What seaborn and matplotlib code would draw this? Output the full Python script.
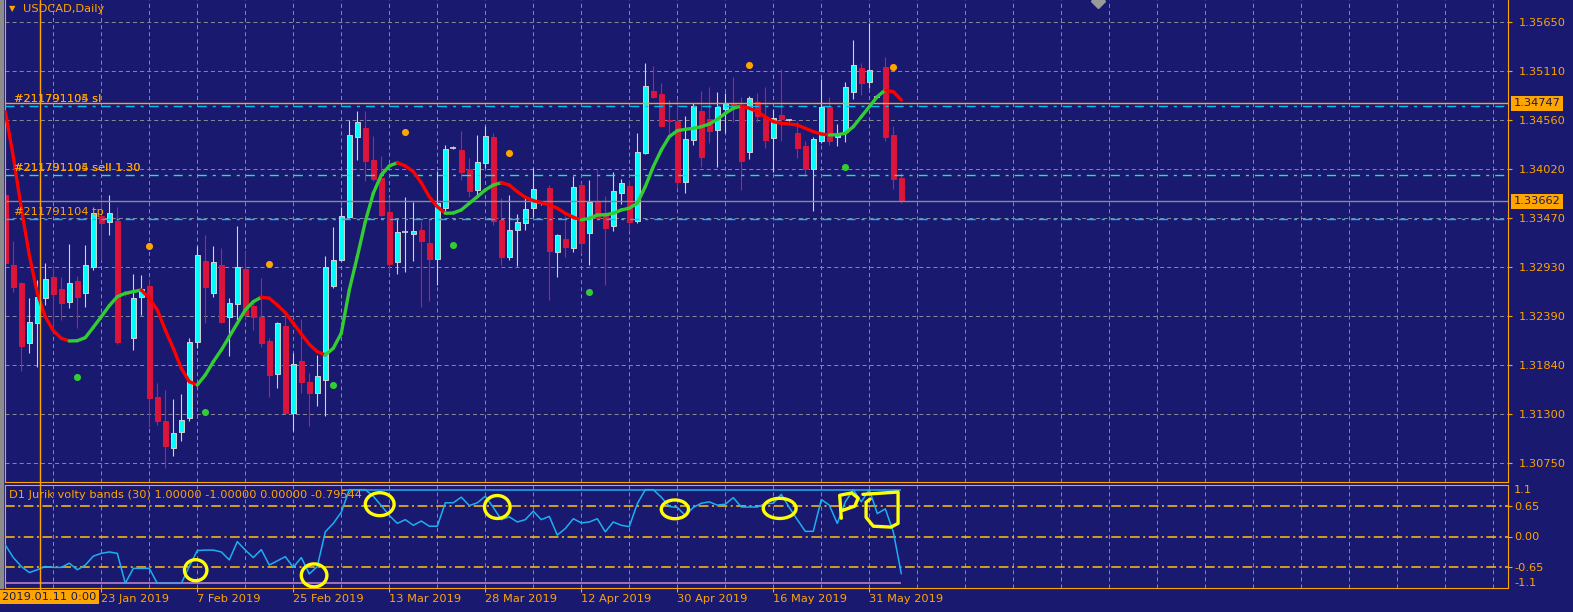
import numpy as np
import pandas as pd
import matplotlib
matplotlib.use("Agg")
import matplotlib.pyplot as plt
import seaborn as sns
from matplotlib.collections import LineCollection
from matplotlib.lines import Line2D
from matplotlib.patches import Ellipse, Rectangle
from matplotlib.transforms import blended_transform_factory

# ---- values (one entry per bar) ----
opens = [1.33730, 1.32953, 1.32753, 1.32086, 1.32308, 1.32586, 1.32819, 1.32686, 1.32541, 1.32775,
         1.32641, 1.32930, 1.33497, 1.33430, 1.33441, 1.32641, 1.32141, 1.32597, 1.32719, 1.31486,
         1.31219, 1.30919, 1.31097, 1.31253, 1.32097, 1.32997, 1.32641, 1.32953, 1.32375, 1.32519,
         1.32908, 1.32497, 1.32375, 1.32108, 1.31741, 1.32275, 1.31308, 1.31886, 1.31653, 1.31530,
         1.31675, 1.32719, 1.33008, 1.33486, 1.34375, 1.34475, 1.34119, 1.33919, 1.33541, 1.32986,
         1.33319, 1.33297, 1.33341, 1.33197, 1.33019, 1.33586, 1.34253, 1.34230, 1.34019, 1.33786,
         1.34086, 1.34375, 1.33453, 1.33041, 1.33341, 1.33419, 1.33586, 1.33641, 1.33808, 1.33097,
         1.33241, 1.33141, 1.33841, 1.33308, 1.33653, 1.33530, 1.33386, 1.33753, 1.33830, 1.33441,
         1.34197, 1.34886, 1.34853, 1.34564, 1.34553, 1.33875, 1.34341, 1.34664, 1.34575, 1.34453,
         1.34686, 1.34753, 1.34708, 1.34208, 1.34764, 1.34597, 1.34364, 1.34619, 1.34564, 1.34419,
         1.34275, 1.34019, 1.34330, 1.34708, 1.34375, 1.34430, 1.34875, 1.35141, 1.34986, 1.34819,
         1.35153, 1.34397, 1.33919]
highs = [1.33897, 1.33219, 1.32764, 1.32586, 1.32786, 1.32975, 1.32953, 1.32819, 1.33186, 1.32830,
         1.33175, 1.33541, 1.33708, 1.33730, 1.33597, 1.32664, 1.32853, 1.32841, 1.32797, 1.31641,
         1.31564, 1.31464, 1.31519, 1.32141, 1.33164, 1.33286, 1.33164, 1.33141, 1.32586, 1.33386,
         1.33119, 1.32530, 1.32808, 1.32141, 1.32319, 1.32419, 1.31975, 1.32353, 1.31753, 1.31953,
         1.33053, 1.33375, 1.33597, 1.34564, 1.34664, 1.34664, 1.34386, 1.34164, 1.33708, 1.33464,
         1.33708, 1.33653, 1.33441, 1.33464, 1.33997, 1.34286, 1.34275, 1.34441, 1.34141, 1.34397,
         1.34497, 1.34419, 1.33697, 1.33730, 1.33519, 1.33697, 1.34030, 1.33664, 1.33841, 1.33297,
         1.33497, 1.33941, 1.33864, 1.33897, 1.34019, 1.33719, 1.33986, 1.33908, 1.33897, 1.34419,
         1.35197, 1.35164, 1.34975, 1.34786, 1.34797, 1.34608, 1.34753, 1.34886, 1.34930, 1.34875,
         1.34864, 1.35041, 1.34819, 1.34830, 1.34864, 1.34930, 1.34686, 1.35130, 1.34575, 1.34553,
         1.34330, 1.34375, 1.35019, 1.34819, 1.34519, 1.34986, 1.35453, 1.35197, 1.35641, 1.34830,
         1.35264, 1.34497, 1.33975]
lows = [1.32764, 1.32653, 1.31775, 1.31975, 1.31819, 1.32508, 1.32264, 1.32341, 1.32475, 1.32253,
        1.32486, 1.32897, 1.33008, 1.33286, 1.32075, 1.32608, 1.32008, 1.32397, 1.31153, 1.31175,
        1.30697, 1.30830, 1.30997, 1.31219, 1.32030, 1.32308, 1.32597, 1.32308, 1.31941, 1.32341,
        1.32341, 1.32230, 1.32041, 1.31486, 1.31586, 1.31308, 1.31108, 1.31530, 1.31164, 1.31386,
        1.31275, 1.32697, 1.32997, 1.33475, 1.34119, 1.33886, 1.33886, 1.33497, 1.32875, 1.32853,
        1.32875, 1.32997, 1.32486, 1.32553, 1.32730, 1.33530, 1.34241, 1.33897, 1.33708, 1.33730,
        1.34030, 1.33397, 1.32953, 1.33008, 1.32941, 1.33341, 1.33486, 1.33619, 1.32564, 1.32819,
        1.33041, 1.33097, 1.33086, 1.32953, 1.33453, 1.32730, 1.33330, 1.33630, 1.33330, 1.33419,
        1.34186, 1.34808, 1.34486, 1.34397, 1.33808, 1.33753, 1.34286, 1.34041, 1.34308, 1.34041,
        1.34419, 1.34541, 1.33786, 1.34130, 1.34541, 1.34253, 1.33986, 1.34330, 1.34553, 1.34141,
        1.33941, 1.33553, 1.34308, 1.34286, 1.34275, 1.34319, 1.34797, 1.34841, 1.34919, 1.34808,
        1.34330, 1.33797, 1.33641]
closes = [1.32975, 1.32708, 1.32053, 1.32319, 1.32597, 1.32797, 1.32630, 1.32530, 1.32753, 1.32597,
          1.32953, 1.33530, 1.33419, 1.33530, 1.32097, 1.32630, 1.32586, 1.32686, 1.31475, 1.31219,
          1.30941, 1.31086, 1.31230, 1.32097, 1.33064, 1.32708, 1.32986, 1.32319, 1.32530, 1.32930,
          1.32397, 1.32375, 1.32086, 1.31730, 1.32308, 1.31308, 1.31853, 1.31653, 1.31530, 1.31719,
          1.32930, 1.33008, 1.33497, 1.34397, 1.34541, 1.34108, 1.33908, 1.33508, 1.32964, 1.33319,
          1.33314, 1.33330, 1.33219, 1.33019, 1.33641, 1.34241, 1.34258, 1.33986, 1.33775, 1.34097,
          1.34386, 1.33441, 1.33041, 1.33341, 1.33430, 1.33575, 1.33797, 1.33636, 1.33108, 1.33286,
          1.33153, 1.33819, 1.33197, 1.33653, 1.33475, 1.33364, 1.33775, 1.33864, 1.33430, 1.34208,
          1.34941, 1.34819, 1.34497, 1.34553, 1.33875, 1.34353, 1.34719, 1.34153, 1.34441, 1.34708,
          1.34753, 1.34719, 1.34108, 1.34808, 1.34608, 1.34341, 1.34586, 1.34575, 1.34558, 1.34253,
          1.34019, 1.34353, 1.34708, 1.34330, 1.34397, 1.34930, 1.35175, 1.34975, 1.35119, 1.34814,
          1.34375, 1.33908, 1.33662]
smooth_ma = [1.34656, 1.34156, 1.33583, 1.33064, 1.32638, 1.32378, 1.32223, 1.32138, 1.32108, 1.32111,
             1.32145, 1.32260, 1.32378, 1.32500, 1.32600, 1.32638, 1.32656, 1.32675, 1.32583, 1.32453,
             1.32230, 1.32027, 1.31805, 1.31656, 1.31619, 1.31730, 1.31878, 1.32008, 1.32156, 1.32305,
             1.32453, 1.32545, 1.32594, 1.32583, 1.32508, 1.32423, 1.32305, 1.32186, 1.32071, 1.31989,
             1.31953, 1.32027, 1.32194, 1.32675, 1.33045, 1.33434, 1.33749, 1.33953, 1.34053, 1.34089,
             1.34053, 1.33989, 1.33867, 1.33711, 1.33600, 1.33527, 1.33530, 1.33564, 1.33638, 1.33711,
             1.33786, 1.33841, 1.33867, 1.33841, 1.33767, 1.33705, 1.33667, 1.33645, 1.33619, 1.33583,
             1.33527, 1.33483, 1.33453, 1.33471, 1.33508, 1.33510, 1.33527, 1.33564, 1.33583, 1.33638,
             1.33823, 1.34045, 1.34230, 1.34378, 1.34445, 1.34460, 1.34471, 1.34489, 1.34519, 1.34571,
             1.34638, 1.34694, 1.34719, 1.34694, 1.34656, 1.34600, 1.34545, 1.34527, 1.34519, 1.34508,
             1.34471, 1.34434, 1.34408, 1.34397, 1.34400, 1.34416, 1.34489, 1.34600, 1.34711, 1.34823,
             1.34897, 1.34878, 1.34786]

sell_dot_bars = [18, 33, 50, 63, 93, 111]
sell_dots = [1.33167, 1.32967, 1.34434, 1.34200, 1.35175, 1.35156]
buy_dot_bars = [9, 25, 41, 56, 73, 105]
buy_dots = [1.31711, 1.31323, 1.31623, 1.33175, 1.32656, 1.34041]

jurik = [-0.18, -0.45, -0.64, -0.77, -0.71, -0.64, -0.66, -0.66, -0.57, -0.71,
         -0.61, -0.42, -0.36, -0.33, -0.36, -1.00, -0.68, -0.68, -0.68, -1.00,
         -1.00, -1.00, -1.00, -0.64, -0.30, -0.29, -0.29, -0.33, -0.50, -0.11,
         -0.29, -0.45, -0.28, -0.61, -0.52, -0.43, -0.66, -0.45, -0.80, -0.64,
         0.10, 0.28, 0.52, 1.00, 1.00, 1.00, 0.86, 0.66, 0.45, 0.28,
         0.36, 0.24, 0.33, 0.22, 0.22, 0.72, 0.72, 0.84, 0.66, 0.72,
         0.86, 0.62, 0.36, 0.42, 0.31, 0.36, 0.54, 0.36, 0.43, 0.03,
         0.17, 0.38, 0.29, 0.31, 0.38, 0.10, 0.31, 0.24, 0.21, 0.70,
         1.00, 1.00, 0.84, 0.64, 0.62, 0.45, 0.62, 0.71, 0.74, 0.67,
         0.69, 0.83, 0.63, 0.63, 0.63, 0.70, 0.71, 0.90, 0.62, 0.36,
         0.11, 0.11, 0.79, 0.67, 0.28, 0.74, 1.00, 0.74, 1.00, 0.49,
         0.59, 0.10, -0.79544]
band_hi = 1.0
band_lo = -1.0
band_hi_from = 42

price_ticks = [1.35650, 1.35110, 1.34560, 1.34020, 1.33470, 1.32930, 1.32390, 1.31840, 1.31300, 1.30750]
level_ticks = [0.65, 0.0, -0.65]
date_bars = [12, 24, 36, 48, 60, 72, 84, 96, 108]
date_labels = ["23 Jan 2019", "7 Feb 2019", "25 Feb 2019", "13 Mar 2019", "28 Mar 2019",
               "12 Apr 2019", "30 Apr 2019", "16 May 2019", "31 May 2019"]
cursor_bar = 4.375
cursor_label = "2019.01.11 0:00"

ask_price = 1.34747
bid_price = 1.33662
sl_price = 1.34716
entry_price = 1.33949
tp_price = 1.33460

# hand drawn yellow marks on the indicator panel: (bar, value, width in bars, height)
marks = [(23.8, -0.72, 2.8, 0.45), (38.6, -0.83, 3.2, 0.49), (46.8, 0.69, 3.6, 0.49),
         (61.5, 0.63, 3.2, 0.49), (83.7, 0.58, 3.4, 0.40), (96.8, 0.60, 4.1, 0.43)]
mark_p = [(104.5, 0.39), (104.3, 0.88), (105.8, 0.93), (106.6, 0.82), (106.2, 0.65), (104.7, 0.56)]
mark_bracket = [(107.2, 0.90), (111.6, 0.95), (111.6, 0.28), (110.7, 0.20), (108.5, 0.22),
                (107.6, 0.41), (107.6, 0.73), (108.1, 0.80)]

# ---- colours ----
BG = "#191970"
TXT = "#FFA500"
GRID = "#8A8A9A"
UP = "#00FFFF"
UP_WICK = "#D3D3D3"
DOWN = "#DC143C"
W, H = 1573, 612
FS = 8.2


def px_axes(fig, left, top, right, bottom):
    return fig.add_axes([left / W, 1 - bottom / H, (right - left) / W, (bottom - top) / H])


def style_axes(ax):
    ax.set_facecolor(BG)
    ax.grid(False)
    for sp in ax.spines.values():
        sp.set_color(TXT)
        sp.set_linewidth(0.8)
        sp.set_visible(True)


def draw_candles(ax, df):
    body = (df.c - df.o).abs()
    bull = df[(df.c > df.o) & (body > 0.00008)]
    bear = df[(df.c < df.o) & (body > 0.00008)]
    doji = df[body <= 0.00008]
    ax.vlines(bull.bar, bull.l, bull.h, color=UP_WICK, lw=0.8, zorder=2)
    ax.bar(bull.bar, bull.c - bull.o, bottom=bull.o, width=0.56, color=UP,
           edgecolor=UP_WICK, linewidth=0.7, zorder=2.1)
    ax.vlines(bear.bar, bear.l, bear.h, color=DOWN, lw=0.8, zorder=2)
    ax.bar(bear.bar, bear.o - bear.c, bottom=bear.c, width=0.56, color=DOWN,
           edgecolor=DOWN, linewidth=0.7, zorder=2.1)
    ax.vlines(doji.bar, doji.l, doji.h, color=UP_WICK, lw=0.8, zorder=2)
    ax.hlines(doji.o, doji.bar - 0.35, doji.bar + 0.35, color=UP_WICK, lw=1.2, zorder=2.1)


def main():
    sns.set_theme(style="dark", rc={"axes.facecolor": BG, "figure.facecolor": BG})
    plt.rcParams["font.family"] = ["DejaVu Sans"]
    plt.rcParams["lines.scale_dashes"] = False

    df = pd.DataFrame({"o": opens, "h": highs, "l": lows, "c": closes, "ma": smooth_ma, "jur": jurik})
    df["bar"] = np.arange(len(df))

    fig = plt.figure(figsize=(W / 100, H / 100), dpi=100)
    fig.patch.set_facecolor(BG)
    ax = px_axes(fig, 4.5, 0, 1508, 482)
    axi = px_axes(fig, 4.5, 485, 1508, 588)
    for a in (ax, axi):
        style_axes(a)
        a.set_xlim(-0.1, 187.84)
    ax.spines["top"].set_visible(False)
    ax.set_ylim(1.30541, 1.35897)
    axi.set_ylim(-1.1, 1.1)

    grid_ls = (0, (2.9, 2.2))
    for g in range(6, 188, 6):
        ax.axvline(g, color=GRID, lw=0.7, ls=grid_ls, zorder=0.5)
        axi.axvline(g, color=GRID, lw=0.7, ls=grid_ls, zorder=0.5)
    for p in price_ticks:
        ax.axhline(p, color=GRID, lw=0.7, ls=grid_ls, zorder=0.5)

    # trade lines
    ax.axhline(ask_price, color=TXT, lw=1.0, zorder=3)
    ax.axhline(bid_price, color="#8C8C8C", lw=1.0, zorder=3)
    dd = (0, (6.5, 4.3, 2.2, 4.3))
    ax.axhline(sl_price, color="#00BFFF", lw=1.0, ls=dd, zorder=3)
    ax.axhline(entry_price, color="#22E3B0", lw=1.0, ls=dd, zorder=3)
    ax.axhline(tp_price, color="#00BFFF", lw=1.0, ls=dd, zorder=3)
    for txt, price in [("#211791104 sl", sl_price), ("#211791105 sl", sl_price),
                       ("#211791104 sell 1.30", entry_price), ("#211791105 sell 1.30", entry_price),
                       ("#211791104 tp", tp_price)]:
        ax.annotate(txt, xy=(1.09, price), xytext=(0, 5), textcoords="offset points",
                    color=TXT, fontsize=FS, va="center", ha="left", zorder=6)

    draw_candles(ax, df)

    # smoothed average, red while falling and green while rising
    pts = np.column_stack([df.bar, df.ma])
    segs = np.stack([pts[:-1], pts[1:]], axis=1)
    seg_cols = ["#32CD32" if d > 0 else "#FF0000" for d in np.diff(df.ma)]
    ax.add_collection(LineCollection(segs, colors=seg_cols, linewidths=2.4,
                                     capstyle="round", zorder=4))

    sns.scatterplot(x=sell_dot_bars, y=sell_dots, color="#FFA500", s=26, linewidth=0,
                    ax=ax, zorder=5, legend=False)
    sns.scatterplot(x=buy_dot_bars, y=buy_dots, color="#32CD32", s=26, linewidth=0,
                    ax=ax, zorder=5, legend=False)

    # right price scale
    ax.yaxis.tick_right()
    ax.set_yticks(price_ticks)
    ax.set_yticklabels([f"{p:.5f}" for p in price_ticks])
    ax.tick_params(axis="y", length=3, width=0.8, color=TXT, labelcolor=TXT,
                   labelsize=FS, pad=4.5, direction="out", left=False, right=True)
    ax.tick_params(axis="x", bottom=False, labelbottom=False)
    ax.set_xlabel("")
    ax.set_ylabel("")
    tr = blended_transform_factory(ax.transAxes, ax.transData)
    for price in (ask_price, bid_price):
        ax.text(1.0 + 6 / 1503.5, price, f"{price:.5f}", transform=tr, ha="left", va="center",
                color="#1A1A50", fontsize=FS, clip_on=False, zorder=10,
                bbox=dict(boxstyle="square,pad=0.22", fc="#FFA500", ec="none"))

    # indicator panel
    lvl_ls = (0, (7, 2.5, 1.5, 2.5))
    for lv in level_ticks:
        axi.axhline(lv, color="#FFC20E", lw=1.1, ls=lvl_ls, zorder=1)
    axi.hlines(band_lo, 0, df.bar.iloc[-1], color="#C88AD0", lw=1.1, zorder=2)
    axi.hlines(band_hi, band_hi_from, df.bar.iloc[-1], color="#1CB0F0", lw=1.1, zorder=2)
    sns.lineplot(x=df.bar, y=df.jur, ax=axi, color="#1CB0F0", lw=1.1, zorder=3)
    axi.text(4.5 / 1503.5, 0.90, "D1 Jurik volty bands (30) 1.00000 -1.00000 0.00000 -0.79544",
             transform=axi.transAxes, color=TXT, fontsize=FS, va="center", ha="left")

    for bx, by, bw, bh in marks:
        axi.add_patch(Ellipse((bx, by), bw, bh, fill=False, ec="#FFFF00", lw=2.4, zorder=6))
    for path in (mark_p, mark_bracket):
        xs, ys = zip(*path)
        axi.plot(xs, ys, color="#FFFF00", lw=2.4, solid_capstyle="round",
                 solid_joinstyle="round", zorder=6)

    axi.yaxis.tick_right()
    axi.set_yticks(level_ticks)
    axi.set_yticklabels([f"{v:.2f}" for v in level_ticks])
    axi.tick_params(axis="y", length=3, width=0.8, color=TXT, labelcolor=TXT,
                    labelsize=FS, pad=1.5, direction="out", left=False, right=True)
    tri = blended_transform_factory(axi.transAxes, axi.transData)
    axi.text(1.0 + 6 / 1503.5, 1.1, "1.1", transform=tri, color=TXT, fontsize=FS,
             va="top", ha="left", clip_on=False)
    axi.text(1.0 + 6 / 1503.5, -1.1, "-1.1", transform=tri, color=TXT, fontsize=FS,
             va="bottom", ha="left", clip_on=False)

    axi.set_xticks(date_bars)
    axi.set_xticklabels(date_labels)
    axi.tick_params(axis="x", length=3, width=0.8, color=TXT, labelcolor=TXT,
                    labelsize=FS, pad=1.5, direction="out", bottom=True)
    for lbl in axi.get_xticklabels():
        lbl.set_horizontalalignment("left")
    axi.set_xlabel("")
    axi.set_ylabel("")

    # cursor line and its date box at the left edge
    trc = blended_transform_factory(ax.transData, fig.transFigure)
    fig.add_artist(Line2D([cursor_bar, cursor_bar], [1 - 590 / H, 1], transform=trc,
                          color=TXT, lw=1.0, zorder=7))
    fig.text(2 / W, 1 - 597 / H, cursor_label, ha="left", va="center",
             color="#1A1A50", fontsize=FS,
             bbox=dict(boxstyle="square,pad=0.2", fc="#FFA500", ec="none"))

    # window chrome
    fig.add_artist(Rectangle((0, 1 - 588 / H), 3 / W, 588 / H, transform=fig.transFigure,
                             color="#8C8C8C", zorder=8))
    fig.text(12.5 / W, 1 - 9 / H, "\u25BC", color=TXT, fontsize=6, ha="center", va="center")
    fig.text(23 / W, 1 - 9 / H, "USDCAD,Daily", color=TXT, fontsize=FS, ha="left", va="center")
    fig.add_artist(Line2D([1098 / W], [1 - 1 / H], transform=fig.transFigure, marker="D",
                          markersize=7, color="#9A9A9A", linestyle="none"))

    fig.savefig("out.png", dpi=100, facecolor=BG)
    plt.close(fig)


if __name__ == "__main__":
    main()
